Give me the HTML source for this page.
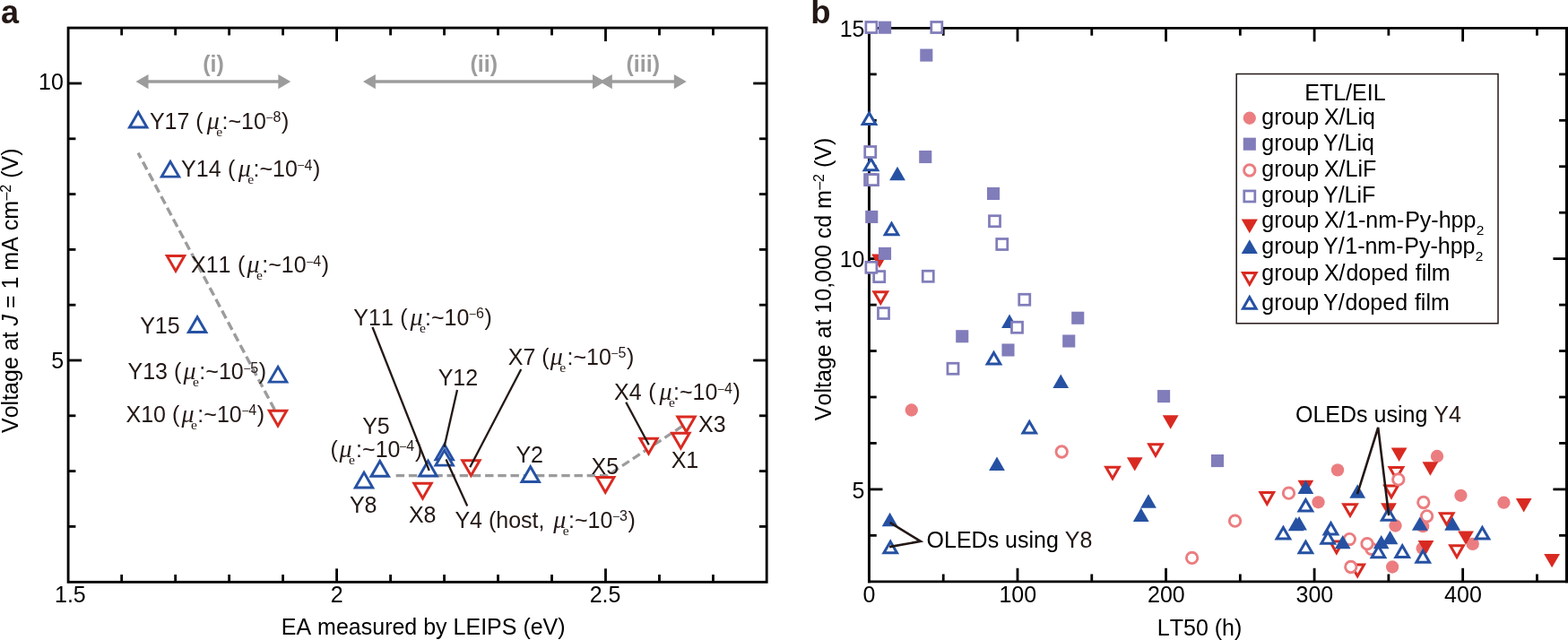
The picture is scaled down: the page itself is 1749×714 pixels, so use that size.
<!DOCTYPE html>
<html lang="en">
<head>
<meta charset="utf-8">
<title>Figure: voltage vs EA and LT50</title>
<style>
html,body{margin:0;padding:0;background:#fff;}
body{width:1749px;height:714px;overflow:hidden;}
svg{display:block;}
text{font-family:"Liberation Sans",sans-serif;font-kerning:none;}
.mu{font-family:"Liberation Serif",serif;font-style:italic;font-size:28px;}
.sb{font-family:"Liberation Serif",serif;font-size:15.6px;}
.sp{font-size:16px;}
.spm{font-size:12.5px;}
.sb2{font-size:15.5px;}
</style>
</head>
<body>
<svg width="1749" height="714" viewBox="0 0 1749 714">
<rect width="1749" height="714" fill="#fff"/>
<g id="panel-a">
<rect x="76.1" y="31.1" width="779.1" height="618.25" fill="none" stroke="#000" stroke-width="2.85"/>
<path d="M135.68 31.1V39.4" stroke="#000" stroke-width="2.8" fill="none"/>
<path d="M135.68 641.05V649.35" stroke="#000" stroke-width="2.8" fill="none"/>
<path d="M195.66 31.1V39.4" stroke="#000" stroke-width="2.8" fill="none"/>
<path d="M195.66 641.05V649.35" stroke="#000" stroke-width="2.8" fill="none"/>
<path d="M255.64 31.1V39.4" stroke="#000" stroke-width="2.8" fill="none"/>
<path d="M255.64 641.05V649.35" stroke="#000" stroke-width="2.8" fill="none"/>
<path d="M315.62 31.1V39.4" stroke="#000" stroke-width="2.8" fill="none"/>
<path d="M315.62 641.05V649.35" stroke="#000" stroke-width="2.8" fill="none"/>
<path d="M375.6 31.1V46.1" stroke="#000" stroke-width="2.8" fill="none"/>
<path d="M375.6 634.35V649.35" stroke="#000" stroke-width="2.8" fill="none"/>
<path d="M435.58 31.1V39.4" stroke="#000" stroke-width="2.8" fill="none"/>
<path d="M435.58 641.05V649.35" stroke="#000" stroke-width="2.8" fill="none"/>
<path d="M495.56 31.1V39.4" stroke="#000" stroke-width="2.8" fill="none"/>
<path d="M495.56 641.05V649.35" stroke="#000" stroke-width="2.8" fill="none"/>
<path d="M555.54 31.1V39.4" stroke="#000" stroke-width="2.8" fill="none"/>
<path d="M555.54 641.05V649.35" stroke="#000" stroke-width="2.8" fill="none"/>
<path d="M615.52 31.1V39.4" stroke="#000" stroke-width="2.8" fill="none"/>
<path d="M615.52 641.05V649.35" stroke="#000" stroke-width="2.8" fill="none"/>
<path d="M675.5 31.1V46.1" stroke="#000" stroke-width="2.8" fill="none"/>
<path d="M675.5 634.35V649.35" stroke="#000" stroke-width="2.8" fill="none"/>
<path d="M735.48 31.1V39.4" stroke="#000" stroke-width="2.8" fill="none"/>
<path d="M735.48 641.05V649.35" stroke="#000" stroke-width="2.8" fill="none"/>
<path d="M795.46 31.1V39.4" stroke="#000" stroke-width="2.8" fill="none"/>
<path d="M795.46 641.05V649.35" stroke="#000" stroke-width="2.8" fill="none"/>
<path d="M76.1 587.4H84.4" stroke="#000" stroke-width="2.8" fill="none"/>
<path d="M846.9 587.4H855.2" stroke="#000" stroke-width="2.8" fill="none"/>
<path d="M76.1 525.6H84.4" stroke="#000" stroke-width="2.8" fill="none"/>
<path d="M846.9 525.6H855.2" stroke="#000" stroke-width="2.8" fill="none"/>
<path d="M76.1 463.8H84.4" stroke="#000" stroke-width="2.8" fill="none"/>
<path d="M846.9 463.8H855.2" stroke="#000" stroke-width="2.8" fill="none"/>
<path d="M76.1 402H91.1" stroke="#000" stroke-width="2.8" fill="none"/>
<path d="M840.2 402H855.2" stroke="#000" stroke-width="2.8" fill="none"/>
<path d="M76.1 340.2H84.4" stroke="#000" stroke-width="2.8" fill="none"/>
<path d="M846.9 340.2H855.2" stroke="#000" stroke-width="2.8" fill="none"/>
<path d="M76.1 278.4H84.4" stroke="#000" stroke-width="2.8" fill="none"/>
<path d="M846.9 278.4H855.2" stroke="#000" stroke-width="2.8" fill="none"/>
<path d="M76.1 216.6H84.4" stroke="#000" stroke-width="2.8" fill="none"/>
<path d="M846.9 216.6H855.2" stroke="#000" stroke-width="2.8" fill="none"/>
<path d="M76.1 154.8H84.4" stroke="#000" stroke-width="2.8" fill="none"/>
<path d="M846.9 154.8H855.2" stroke="#000" stroke-width="2.8" fill="none"/>
<path d="M76.1 93H91.1" stroke="#000" stroke-width="2.8" fill="none"/>
<path d="M840.2 93H855.2" stroke="#000" stroke-width="2.8" fill="none"/>
<text x="70.8" y="100.3" font-size="25" fill="#000" text-anchor="end">10</text>
<text x="71.1" y="411.3" font-size="25" fill="#000" text-anchor="end">5</text>
<text x="78.4" y="672" font-size="25" fill="#000" text-anchor="middle">1.5</text>
<text x="375.6" y="672" font-size="25" fill="#000" text-anchor="middle">2</text>
<text x="675.1" y="672" font-size="25" fill="#000" text-anchor="middle">2.5</text>
<text x="313.8" y="708.3" font-size="25" fill="#000">EA measured by LEIPS (eV)</text>
<text transform="translate(19.6 483) rotate(-90)" font-size="25" fill="#000">Voltage at <tspan font-style="italic">J</tspan> = 1 mA cm<tspan class="sp" dy="-7.6" dx="0.3">–2</tspan><tspan dy="7.6"> (V)</tspan></text>
<text x="0.9" y="26" font-size="36" fill="#231815" font-weight="bold">a</text>
<path d="M164.5 91.05H311.35" stroke="#9c9c9d" stroke-width="3.45" fill="none"/><path d="M151.6 91.05L165.5 82.9V99.2Z" fill="#9c9c9d"/><path d="M324.25 91.05L310.35 82.9V99.2Z" fill="#9c9c9d"/>
<path d="M417.9 91.05H662" stroke="#9c9c9d" stroke-width="3.45" fill="none"/><path d="M405 91.05L418.9 82.9V99.2Z" fill="#9c9c9d"/><path d="M674.9 91.05L661 82.9V99.2Z" fill="#9c9c9d"/>
<path d="M681.8 91.05H752.8" stroke="#9c9c9d" stroke-width="3.45" fill="none"/><path d="M668.9 91.05L682.8 82.9V99.2Z" fill="#9c9c9d"/><path d="M765.7 91.05L751.8 82.9V99.2Z" fill="#9c9c9d"/>
<text x="238" y="80.4" font-size="25" fill="#9c9c9d" text-anchor="middle" font-weight="bold">(i)</text>
<text x="539.75" y="80.4" font-size="25" fill="#9c9c9d" text-anchor="middle" font-weight="bold">(ii)</text>
<text x="717.25" y="80.4" font-size="25" fill="#9c9c9d" text-anchor="middle" font-weight="bold">(iii)</text>
<path d="M154.1 170.6L306.3 457" stroke="#9c9c9d" stroke-width="3.4" stroke-dasharray="9.6 4.86" stroke-dashoffset="3.1" fill="none"/>
<path d="M441.7 530.6H677.5L764 473.5" stroke="#9c9c9d" stroke-width="3.2" stroke-dasharray="9.4 4.8" fill="none"/>
<path d="M144.5 142.03L163.9 142.03L154.2 125.23Z" fill="#fff" stroke="#2651a3" stroke-width="2.95"/>
<path d="M180.3 197.12L199.7 197.12L190 180.33Z" fill="#fff" stroke="#2651a3" stroke-width="2.95"/>
<path d="M210.4 370.52L229.8 370.52L220.1 353.73Z" fill="#fff" stroke="#2651a3" stroke-width="2.95"/>
<path d="M300.4 426.12L319.8 426.12L310.1 409.33Z" fill="#fff" stroke="#2651a3" stroke-width="2.95"/>
<path d="M396.3 543.92L415.7 543.92L406 527.13Z" fill="#fff" stroke="#2651a3" stroke-width="2.95"/>
<path d="M414.05 531.23L433.45 531.23L423.75 514.43Z" fill="#fff" stroke="#2651a3" stroke-width="2.95"/>
<path d="M467.8 531.02L487.2 531.02L477.5 514.23Z" fill="#fff" stroke="#2651a3" stroke-width="2.95"/>
<path d="M486 512.82L505.4 512.82L495.7 496.03Z" fill="#fff" stroke="#2651a3" stroke-width="2.95"/>
<path d="M486 519.12L505.4 519.12L495.7 502.33Z" fill="#fff" stroke="#2651a3" stroke-width="2.95"/>
<path d="M582 537.52L601.4 537.52L591.7 520.73Z" fill="#fff" stroke="#2651a3" stroke-width="2.95"/>
<path d="M186.3 285.58L205.7 285.58L196 302.37Z" fill="#fff" stroke="#d92a21" stroke-width="2.95"/>
<path d="M300.3 458.28L319.7 458.28L310 475.07Z" fill="#fff" stroke="#d92a21" stroke-width="2.95"/>
<path d="M461.8 539.18L481.2 539.18L471.5 555.97Z" fill="#fff" stroke="#d92a21" stroke-width="2.95"/>
<path d="M515.7 513.77L535.1 513.77L525.4 530.57Z" fill="#fff" stroke="#d92a21" stroke-width="2.95"/>
<path d="M665.55 532.48L684.95 532.48L675.25 549.27Z" fill="#fff" stroke="#d92a21" stroke-width="2.95"/>
<path d="M713.8 489.18L733.2 489.18L723.5 505.97Z" fill="#fff" stroke="#d92a21" stroke-width="2.95"/>
<path d="M749.7 483.18L769.1 483.18L759.4 499.97Z" fill="#fff" stroke="#d92a21" stroke-width="2.95"/>
<path d="M755.8 464.98L775.2 464.98L765.5 481.77Z" fill="#fff" stroke="#d92a21" stroke-width="2.95"/>
<path d="M415.5 365L478.75 525" stroke="#231815" stroke-width="2.3" fill="none"/>
<path d="M510 435L495.5 498.75" stroke="#231815" stroke-width="2.3" fill="none"/>
<path d="M581.25 412L524.25 521.25" stroke="#231815" stroke-width="2.3" fill="none"/>
<path d="M497.5 512.5L521.25 564.5" stroke="#231815" stroke-width="2.3" fill="none"/>
<path d="M698.25 448.75L723.75 496.25" stroke="#231815" stroke-width="2.3" fill="none"/>
<text x="166.9" y="143.8" font-size="25" fill="#231815">Y17 (<tspan class="mu" dx="4.0">μ</tspan><tspan class="sb" dy="8" dx="-3.6">e</tspan><tspan dy="-8" dx="-0.6">:~10</tspan><tspan class="spm" dy="-8.7" dx="0.5">–</tspan><tspan class="sp" dy="1.2" dx="0.2">8</tspan><tspan dy="7.5" dx="0.6">)</tspan></text>
<text x="202.1" y="197" font-size="25" fill="#231815">Y14 <tspan dx="0.4">(</tspan><tspan class="mu" dx="3.4">μ</tspan><tspan class="sb" dy="8" dx="-3.6">e</tspan><tspan dy="-8" dx="-0.6">:~10</tspan><tspan class="spm" dy="-8.7" dx="0.5">–</tspan><tspan class="sp" dy="1.2" dx="0.2">4</tspan><tspan dy="7.5" dx="0.6">)</tspan></text>
<text x="213" y="304.4" font-size="25" fill="#231815">X11 <tspan dx="0.65">(</tspan><tspan class="mu" dx="2.1">μ</tspan><tspan class="sb" dy="8" dx="-3.6">e</tspan><tspan dy="-8" dx="-0.6">:~10</tspan><tspan class="spm" dy="-8.7" dx="0.5">–</tspan><tspan class="sp" dy="1.2" dx="0.2">4</tspan><tspan dy="7.5" dx="0.6">)</tspan></text>
<text x="156.2" y="372.1" font-size="25" fill="#231815">Y15</text>
<text x="142.5" y="423.3" font-size="25" fill="#231815">Y13 (<tspan class="mu" dx="2.3">μ</tspan><tspan class="sb" dy="8" dx="-3.6">e</tspan><tspan dy="-8" dx="0.4">:~10</tspan><tspan class="spm" dy="-8.7" dx="0.5">–</tspan><tspan class="sp" dy="1.2" dx="0.2">5</tspan><tspan dy="7.5" dx="0.6">)</tspan></text>
<text x="140.5" y="470.8" font-size="25" fill="#231815">X10 (<tspan class="mu" dx="2.3">μ</tspan><tspan class="sb" dy="8" dx="-3.6">e</tspan><tspan dy="-8" dx="0.4">:~10</tspan><tspan class="spm" dy="-8.7" dx="0.5">–</tspan><tspan class="sp" dy="1.2" dx="0.2">4</tspan><tspan dy="7.5" dx="0.6">)</tspan></text>
<text x="394.3" y="362.5" font-size="25" fill="#231815">Y11 <tspan dx="0.6">(</tspan><tspan class="mu" dx="2.8">μ</tspan><tspan class="sb" dy="8" dx="-3.6">e</tspan><tspan dy="-8" dx="-0.9">:~10</tspan><tspan class="spm" dy="-8.7" dx="0.5">–</tspan><tspan class="sp" dy="1.2" dx="0.2">6</tspan><tspan dy="7.5" dx="0.6">)</tspan></text>
<text x="566.8" y="406.9" font-size="25" fill="#231815">X7 (<tspan class="mu" dx="1.2">μ</tspan><tspan class="sb" dy="8" dx="-3.6">e</tspan><tspan dy="-8" dx="1.2">:~10</tspan><tspan class="spm" dy="-8.7" dx="0.5">–</tspan><tspan class="sp" dy="1.2" dx="0.2">5</tspan><tspan dy="7.5" dx="0.6">)</tspan></text>
<text x="488.7" y="429.5" font-size="25" fill="#231815">Y12</text>
<text x="685" y="446.3" font-size="25" fill="#231815">X4 <tspan dx="0.6">(</tspan><tspan class="mu" dx="4.0">μ</tspan><tspan class="sb" dy="8" dx="-3.6">e</tspan><tspan dy="-8" dx="-1.9">:~10</tspan><tspan class="spm" dy="-8.7" dx="0.5">–</tspan><tspan class="sp" dy="1.2" dx="0.2">4</tspan><tspan dy="7.5" dx="0.6">)</tspan></text>
<text x="404.2" y="483.9" font-size="25" fill="#231815">Y5</text>
<text x="368.4" y="510.3" font-size="25" fill="#231815">(<tspan class="mu" dx="1.8">μ</tspan><tspan class="sb" dy="8" dx="-3.6">e</tspan><tspan dy="-8" dx="1.2">:~10</tspan><tspan class="spm" dy="-8.7" dx="-0.4">–</tspan><tspan class="sp" dy="1.2" dx="0.2">4</tspan><tspan dy="7.5" dx="0.9">)</tspan></text>
<text x="575.4" y="515.8" font-size="25" fill="#231815">Y2</text>
<text x="659.6" y="529.1" font-size="25" fill="#231815">X5</text>
<text x="779" y="481.5" font-size="25" fill="#231815">X3</text>
<text x="748.7" y="522.2" font-size="25" fill="#231815">X1</text>
<text x="389.9" y="572.3" font-size="25" fill="#231815">Y8</text>
<text x="455.9" y="582.6" font-size="25" fill="#231815">X8</text>
<text x="507.4" y="588.8" font-size="25" fill="#231815">Y4 (host, <tspan class="mu" dx="2.9">μ</tspan><tspan class="sb" dy="8" dx="-3.6">e</tspan><tspan dy="-8" dx="-0.6">:~10</tspan><tspan class="spm" dy="-8.7" dx="0.5">–</tspan><tspan class="sp" dy="1.2" dx="0.2">3</tspan><tspan dy="7.5" dx="0.6">)</tspan></text>
</g>
<g id="panel-b">
<path d="M968 31.4H1749" stroke="#000" stroke-width="2.7" fill="none"/>
<path d="M968 648.8H1749" stroke="#000" stroke-width="2.85" fill="none"/>
<path d="M969.45 30.05V650.22" stroke="#000" stroke-width="2.95" fill="none"/>
<path d="M1747.5 30.05V650.22" stroke="#000" stroke-width="3.1" fill="none"/>
<path d="M1052.23 31.4V39.7" stroke="#000" stroke-width="2.8" fill="none"/>
<path d="M1052.23 640.5V648.8" stroke="#000" stroke-width="2.8" fill="none"/>
<path d="M1135 31.4V46.4" stroke="#000" stroke-width="2.8" fill="none"/>
<path d="M1135 633.8V648.8" stroke="#000" stroke-width="2.8" fill="none"/>
<path d="M1217.78 31.4V39.7" stroke="#000" stroke-width="2.8" fill="none"/>
<path d="M1217.78 640.5V648.8" stroke="#000" stroke-width="2.8" fill="none"/>
<path d="M1300.55 31.4V46.4" stroke="#000" stroke-width="2.8" fill="none"/>
<path d="M1300.55 633.8V648.8" stroke="#000" stroke-width="2.8" fill="none"/>
<path d="M1383.33 31.4V39.7" stroke="#000" stroke-width="2.8" fill="none"/>
<path d="M1383.33 640.5V648.8" stroke="#000" stroke-width="2.8" fill="none"/>
<path d="M1466.1 31.4V46.4" stroke="#000" stroke-width="2.8" fill="none"/>
<path d="M1466.1 633.8V648.8" stroke="#000" stroke-width="2.8" fill="none"/>
<path d="M1548.88 31.4V39.7" stroke="#000" stroke-width="2.8" fill="none"/>
<path d="M1548.88 640.5V648.8" stroke="#000" stroke-width="2.8" fill="none"/>
<path d="M1631.65 31.4V46.4" stroke="#000" stroke-width="2.8" fill="none"/>
<path d="M1631.65 633.8V648.8" stroke="#000" stroke-width="2.8" fill="none"/>
<path d="M1714.43 31.4V39.7" stroke="#000" stroke-width="2.8" fill="none"/>
<path d="M1714.43 640.5V648.8" stroke="#000" stroke-width="2.8" fill="none"/>
<path d="M969.45 597.35H977.75" stroke="#000" stroke-width="2.8" fill="none"/>
<path d="M1739.1 597.35H1747.4" stroke="#000" stroke-width="2.8" fill="none"/>
<path d="M969.45 545.9H984.45" stroke="#000" stroke-width="2.8" fill="none"/>
<path d="M1732.4 545.9H1747.4" stroke="#000" stroke-width="2.8" fill="none"/>
<path d="M969.45 494.45H977.75" stroke="#000" stroke-width="2.8" fill="none"/>
<path d="M1739.1 494.45H1747.4" stroke="#000" stroke-width="2.8" fill="none"/>
<path d="M969.45 443H977.75" stroke="#000" stroke-width="2.8" fill="none"/>
<path d="M1739.1 443H1747.4" stroke="#000" stroke-width="2.8" fill="none"/>
<path d="M969.45 391.55H977.75" stroke="#000" stroke-width="2.8" fill="none"/>
<path d="M1739.1 391.55H1747.4" stroke="#000" stroke-width="2.8" fill="none"/>
<path d="M969.45 340.1H977.75" stroke="#000" stroke-width="2.8" fill="none"/>
<path d="M1739.1 340.1H1747.4" stroke="#000" stroke-width="2.8" fill="none"/>
<path d="M969.45 288.65H984.45" stroke="#000" stroke-width="2.8" fill="none"/>
<path d="M1732.4 288.65H1747.4" stroke="#000" stroke-width="2.8" fill="none"/>
<path d="M969.45 237.2H977.75" stroke="#000" stroke-width="2.8" fill="none"/>
<path d="M1739.1 237.2H1747.4" stroke="#000" stroke-width="2.8" fill="none"/>
<path d="M969.45 185.75H977.75" stroke="#000" stroke-width="2.8" fill="none"/>
<path d="M1739.1 185.75H1747.4" stroke="#000" stroke-width="2.8" fill="none"/>
<path d="M969.45 134.3H977.75" stroke="#000" stroke-width="2.8" fill="none"/>
<path d="M1739.1 134.3H1747.4" stroke="#000" stroke-width="2.8" fill="none"/>
<path d="M969.45 82.85H977.75" stroke="#000" stroke-width="2.8" fill="none"/>
<path d="M1739.1 82.85H1747.4" stroke="#000" stroke-width="2.8" fill="none"/>
<text x="964.5" y="41" font-size="25" fill="#000" text-anchor="end">15</text>
<text x="964.5" y="298.25" font-size="25" fill="#000" text-anchor="end">10</text>
<text x="964.5" y="555.5" font-size="25" fill="#000" text-anchor="end">5</text>
<text x="969.45" y="671.7" font-size="25" fill="#000" text-anchor="middle">0</text>
<text x="1135.3" y="671.7" font-size="25" fill="#000" text-anchor="middle">100</text>
<text x="1300.85" y="671.7" font-size="25" fill="#000" text-anchor="middle">200</text>
<text x="1466.4" y="671.7" font-size="25" fill="#000" text-anchor="middle">300</text>
<text x="1631.95" y="671.7" font-size="25" fill="#000" text-anchor="middle">400</text>
<text x="1290.8" y="709" font-size="25" fill="#000">LT50 (h)</text>
<text transform="translate(926.9 469.2) rotate(-90)" font-size="25" fill="#000">Voltage at 10,000 cd m<tspan class="sp" dy="-7.6" dx="0.3">–2</tspan><tspan dy="7.6"> (V)</tspan></text>
<text x="904.2" y="25.8" font-size="36.5" fill="#231815" font-weight="bold">b</text>
<circle cx="1016.75" cy="457.5" r="7.15" fill="#eb7d80"/>
<circle cx="1492" cy="524.4" r="7.15" fill="#eb7d80"/>
<circle cx="1603" cy="509" r="7.15" fill="#eb7d80"/>
<circle cx="1470.5" cy="560.3" r="7.15" fill="#eb7d80"/>
<circle cx="1629.4" cy="552.8" r="7.15" fill="#eb7d80"/>
<circle cx="1677.4" cy="560.7" r="7.15" fill="#eb7d80"/>
<circle cx="1556.5" cy="586.5" r="7.15" fill="#eb7d80"/>
<circle cx="1587.2" cy="587.1" r="7.15" fill="#eb7d80"/>
<circle cx="1642.7" cy="606.9" r="7.15" fill="#eb7d80"/>
<circle cx="1586.6" cy="611.7" r="7.15" fill="#eb7d80"/>
<circle cx="1553.1" cy="632.5" r="7.15" fill="#eb7d80"/>
<path d="M972.1 283.5L989.9 283.5L981 298.92Z" fill="#d92a21"/>
<path d="M1296.8 463.3L1314.6 463.3L1305.7 478.72Z" fill="#d92a21"/>
<path d="M1256.85 510.2L1274.65 510.2L1265.75 525.62Z" fill="#d92a21"/>
<path d="M1447.5 535.7L1465.3 535.7L1456.4 551.12Z" fill="#d92a21"/>
<path d="M1551.7 499.5L1569.5 499.5L1560.6 514.92Z" fill="#d92a21"/>
<path d="M1586.5 515.3L1604.3 515.3L1595.4 530.72Z" fill="#d92a21"/>
<path d="M1540.1 561.3L1557.9 561.3L1549 576.72Z" fill="#d92a21"/>
<path d="M1690.8 556L1708.6 556L1699.7 571.42Z" fill="#d92a21"/>
<path d="M1626.1 592.4L1643.9 592.4L1635 607.82Z" fill="#d92a21"/>
<path d="M1581.6 602.9L1599.4 602.9L1590.5 618.32Z" fill="#d92a21"/>
<path d="M1722.2 617.9L1740 617.9L1731.1 633.32Z" fill="#d92a21"/>
<path d="M974.95 325.7L989.55 325.7L982.25 338.35Z" fill="#fff" stroke="#d92a21" stroke-width="3.0"/>
<path d="M1281.7 495.7L1296.3 495.7L1289 508.35Z" fill="#fff" stroke="#d92a21" stroke-width="3.0"/>
<path d="M1233.7 521.2L1248.3 521.2L1241 533.85Z" fill="#fff" stroke="#d92a21" stroke-width="3.0"/>
<path d="M1406 549.6L1420.6 549.6L1413.3 562.25Z" fill="#fff" stroke="#d92a21" stroke-width="3.0"/>
<path d="M1550.1 521.6L1564.7 521.6L1557.4 534.25Z" fill="#fff" stroke="#d92a21" stroke-width="3.0"/>
<path d="M1544.7 542L1559.3 542L1552 554.65Z" fill="#fff" stroke="#d92a21" stroke-width="3.0"/>
<path d="M1498.7 562.7L1513.3 562.7L1506 575.35Z" fill="#fff" stroke="#d92a21" stroke-width="3.0"/>
<path d="M1606.4 572.8L1621 572.8L1613.7 585.45Z" fill="#fff" stroke="#d92a21" stroke-width="3.0"/>
<path d="M1617.7 608.8L1632.3 608.8L1625 621.45Z" fill="#fff" stroke="#d92a21" stroke-width="3.0"/>
<path d="M1483.5 604L1498.1 604L1490.8 616.65Z" fill="#fff" stroke="#d92a21" stroke-width="3.0"/>
<path d="M1506.9 630L1521.5 630L1514.2 642.65Z" fill="#fff" stroke="#d92a21" stroke-width="3.0"/>
<circle cx="1184.25" cy="504" r="6.2" fill="#fff" stroke="#eb7d80" stroke-width="2.9"/>
<circle cx="1437.5" cy="550.2" r="6.2" fill="#fff" stroke="#eb7d80" stroke-width="2.9"/>
<circle cx="1559.8" cy="534.9" r="6.2" fill="#fff" stroke="#eb7d80" stroke-width="2.9"/>
<circle cx="1587.8" cy="560.5" r="6.2" fill="#fff" stroke="#eb7d80" stroke-width="2.9"/>
<circle cx="1591.6" cy="575.8" r="6.2" fill="#fff" stroke="#eb7d80" stroke-width="2.9"/>
<circle cx="1377.55" cy="581.2" r="6.2" fill="#fff" stroke="#eb7d80" stroke-width="2.9"/>
<circle cx="1329.6" cy="622.4" r="6.2" fill="#fff" stroke="#eb7d80" stroke-width="2.9"/>
<circle cx="1505.3" cy="601.6" r="6.2" fill="#fff" stroke="#eb7d80" stroke-width="2.9"/>
<circle cx="1529.8" cy="612.3" r="6.2" fill="#fff" stroke="#eb7d80" stroke-width="2.9"/>
<circle cx="1525" cy="606.7" r="6.2" fill="#fff" stroke="#eb7d80" stroke-width="2.9"/>
<circle cx="1506.8" cy="632.5" r="6.2" fill="#fff" stroke="#eb7d80" stroke-width="2.9"/>
<path d="M992.1 201.25L1009.9 201.25L1001 185.83Z" fill="#2651a3"/>
<path d="M1117.1 366L1134.9 366L1126 350.58Z" fill="#2651a3"/>
<path d="M1174.35 433L1192.15 433L1183.25 417.58Z" fill="#2651a3"/>
<path d="M1103.1 525L1120.9 525L1112 509.58Z" fill="#2651a3"/>
<path d="M1272.1 566.75L1289.9 566.75L1281 551.33Z" fill="#2651a3"/>
<path d="M1263.85 582L1281.65 582L1272.75 566.58Z" fill="#2651a3"/>
<path d="M983.7 587.2L1001.5 587.2L992.6 571.78Z" fill="#2651a3"/>
<path d="M1447.5 550.9L1465.3 550.9L1456.4 535.48Z" fill="#2651a3"/>
<path d="M1505.3 555.7L1523.1 555.7L1514.2 540.28Z" fill="#2651a3"/>
<path d="M1436.75 592.2L1454.55 592.2L1445.65 576.78Z" fill="#2651a3"/>
<path d="M1440.15 591.5L1457.95 591.5L1449.05 576.08Z" fill="#2651a3"/>
<path d="M1488.8 612.3L1506.6 612.3L1497.7 596.88Z" fill="#2651a3"/>
<path d="M1541.6 607.3L1559.4 607.3L1550.5 591.88Z" fill="#2651a3"/>
<path d="M1531.8 612.3L1549.6 612.3L1540.7 596.88Z" fill="#2651a3"/>
<path d="M1574.9 591.8L1592.7 591.8L1583.8 576.38Z" fill="#2651a3"/>
<path d="M1611.2 591.8L1629 591.8L1620.1 576.38Z" fill="#2651a3"/>
<path d="M962.2 138.55L976.8 138.55L969.5 125.9Z" fill="#fff" stroke="#2651a3" stroke-width="3.0"/>
<path d="M964.2 189.8L978.8 189.8L971.5 177.15Z" fill="#fff" stroke="#2651a3" stroke-width="3.0"/>
<path d="M987.2 261.8L1001.8 261.8L994.5 249.15Z" fill="#fff" stroke="#2651a3" stroke-width="3.0"/>
<path d="M1101.2 406.05L1115.8 406.05L1108.5 393.4Z" fill="#fff" stroke="#2651a3" stroke-width="3.0"/>
<path d="M1140.95 483.05L1155.55 483.05L1148.25 470.4Z" fill="#fff" stroke="#2651a3" stroke-width="3.0"/>
<path d="M985.9 616.8L1000.5 616.8L993.2 604.15Z" fill="#fff" stroke="#2651a3" stroke-width="3.0"/>
<path d="M1449.1 570.1L1463.7 570.1L1456.4 557.45Z" fill="#fff" stroke="#2651a3" stroke-width="3.0"/>
<path d="M1424.1 601.1L1438.7 601.1L1431.4 588.45Z" fill="#fff" stroke="#2651a3" stroke-width="3.0"/>
<path d="M1449.1 616.8L1463.7 616.8L1456.4 604.15Z" fill="#fff" stroke="#2651a3" stroke-width="3.0"/>
<path d="M1477.2 596.1L1491.8 596.1L1484.5 583.45Z" fill="#fff" stroke="#2651a3" stroke-width="3.0"/>
<path d="M1473.9 606.2L1488.5 606.2L1481.2 593.55Z" fill="#fff" stroke="#2651a3" stroke-width="3.0"/>
<path d="M1541.4 580.2L1556 580.2L1548.7 567.55Z" fill="#fff" stroke="#2651a3" stroke-width="3.0"/>
<path d="M1530.2 621.8L1544.8 621.8L1537.5 609.15Z" fill="#fff" stroke="#2651a3" stroke-width="3.0"/>
<path d="M1556.9 621.5L1571.5 621.5L1564.2 608.85Z" fill="#fff" stroke="#2651a3" stroke-width="3.0"/>
<path d="M1579.9 627.2L1594.5 627.2L1587.2 614.55Z" fill="#fff" stroke="#2651a3" stroke-width="3.0"/>
<path d="M1646.1 601.1L1660.7 601.1L1653.4 588.45Z" fill="#fff" stroke="#2651a3" stroke-width="3.0"/>
<rect x="980.05" y="23.65" width="14.1" height="14.1" fill="#817dba"/>
<rect x="1026.25" y="54.55" width="14.1" height="14.1" fill="#817dba"/>
<rect x="1025.2" y="167.95" width="14.1" height="14.1" fill="#817dba"/>
<rect x="1100.95" y="208.95" width="14.1" height="14.1" fill="#817dba"/>
<rect x="965.2" y="234.85" width="14.1" height="14.1" fill="#817dba"/>
<rect x="979.95" y="275.85" width="14.1" height="14.1" fill="#817dba"/>
<rect x="1195.2" y="347.7" width="14.1" height="14.1" fill="#817dba"/>
<rect x="1066.2" y="368.2" width="14.1" height="14.1" fill="#817dba"/>
<rect x="1185.2" y="373.45" width="14.1" height="14.1" fill="#817dba"/>
<rect x="1117.45" y="383.45" width="14.1" height="14.1" fill="#817dba"/>
<rect x="1291.05" y="435.05" width="14.1" height="14.1" fill="#817dba"/>
<rect x="1350.9" y="507" width="14.1" height="14.1" fill="#817dba"/>
<rect x="965.88" y="24.48" width="12.05" height="12.05" fill="#fff" stroke="#817dba" stroke-width="2.75"/>
<rect x="1038.77" y="24.48" width="12.05" height="12.05" fill="#fff" stroke="#817dba" stroke-width="2.75"/>
<rect x="964.73" y="163.47" width="12.05" height="12.05" fill="#fff" stroke="#817dba" stroke-width="2.75"/>
<rect x="964.58" y="194.57" width="12.05" height="12.05" fill="#fff" stroke="#817dba" stroke-width="2.75"/>
<rect x="967.48" y="194.57" width="12.05" height="12.05" fill="#fff" stroke="#817dba" stroke-width="2.75"/>
<rect x="1103.47" y="240.72" width="12.05" height="12.05" fill="#fff" stroke="#817dba" stroke-width="2.75"/>
<rect x="1111.72" y="266.48" width="12.05" height="12.05" fill="#fff" stroke="#817dba" stroke-width="2.75"/>
<rect x="974.73" y="302.58" width="12.05" height="12.05" fill="#fff" stroke="#817dba" stroke-width="2.75"/>
<rect x="965.88" y="292.28" width="12.05" height="12.05" fill="#fff" stroke="#817dba" stroke-width="2.75"/>
<rect x="1029.22" y="302.23" width="12.05" height="12.05" fill="#fff" stroke="#817dba" stroke-width="2.75"/>
<rect x="1136.72" y="328.23" width="12.05" height="12.05" fill="#fff" stroke="#817dba" stroke-width="2.75"/>
<rect x="979.48" y="343.48" width="12.05" height="12.05" fill="#fff" stroke="#817dba" stroke-width="2.75"/>
<rect x="1128.47" y="359.23" width="12.05" height="12.05" fill="#fff" stroke="#817dba" stroke-width="2.75"/>
<rect x="1056.97" y="405.23" width="12.05" height="12.05" fill="#fff" stroke="#817dba" stroke-width="2.75"/>
<path d="M992.6 582.9L1026.8 603.9L992.1 610.1" stroke="#231815" stroke-width="2.6" fill="none"/>
<path d="M1514 551.2L1537.2 477L1549.1 575.1" stroke="#231815" stroke-width="2.6" fill="none"/>
<text x="1033.6" y="611.3" font-size="25" fill="#000">OLEDs using <tspan fill="#231815">Y8</tspan></text>
<text x="1445" y="470.5" font-size="25" fill="#000">OLEDs using <tspan fill="#231815">Y4</tspan></text>
<rect x="1379.2" y="82.5" width="291.8" height="278.3" fill="#fff" stroke="#231815" stroke-width="1.5"/>
<text x="1500.4" y="111.8" font-size="25" fill="#000" text-anchor="middle">ETL/EIL</text>
<text x="1407.3" y="138.9" font-size="25" fill="#000">group <tspan dx="-1.3">X</tspan>/Liq</text>
<text x="1407.3" y="167.8" font-size="25" fill="#000">group <tspan dx="-2.2">Y</tspan>/Liq</text>
<text x="1407.3" y="196.7" font-size="25" fill="#000">group <tspan dx="-1.3">X</tspan>/LiF</text>
<text x="1407.3" y="225.5" font-size="25" fill="#000">group <tspan dx="-2.2">Y</tspan>/LiF</text>
<text x="1407.3" y="254" font-size="25" fill="#000">group <tspan dx="-1.3">X</tspan>/<tspan dx="0.6">1</tspan>-nm-<tspan dx="0.7">P</tspan>y-hpp<tspan class="sb2" dy="8.4" dx="0.3">2</tspan></text>
<text x="1407.3" y="282.9" font-size="25" fill="#000">group <tspan dx="-2.2">Y</tspan>/<tspan dx="0.6">1</tspan>-nm-<tspan dx="0.7">P</tspan>y-hpp<tspan class="sb2" dy="8.4" dx="0.3">2</tspan></text>
<text x="1407.3" y="313.3" font-size="25" fill="#000">group <tspan dx="-1.3">X</tspan>/<tspan dx="0.9">d</tspan>oped <tspan dx="0.9">f</tspan>ilm</text>
<text x="1407.3" y="346.4" font-size="25" fill="#000">group <tspan dx="-2.2">Y</tspan>/<tspan dx="0.9">d</tspan>oped <tspan dx="0.9">f</tspan>ilm</text>
<circle cx="1393.8" cy="131.75" r="7.15" fill="#eb7d80"/>
<rect x="1386.75" y="153.65" width="14.1" height="14.1" fill="#817dba"/>
<circle cx="1393.8" cy="190" r="6.2" fill="#fff" stroke="#eb7d80" stroke-width="2.9"/>
<rect x="1387.77" y="212.97" width="12.05" height="12.05" fill="#fff" stroke="#817dba" stroke-width="2.75"/>
<path d="M1384.7 244.5L1402.9 244.5L1393.8 260.26Z" fill="#d92a21"/>
<path d="M1384.7 283L1402.9 283L1393.8 267.24Z" fill="#2651a3"/>
<path d="M1386.5 304.5L1401.1 304.5L1393.8 317.15Z" fill="#fff" stroke="#d92a21" stroke-width="3.0"/>
<path d="M1386.5 344.25L1401.1 344.25L1393.8 331.6Z" fill="#fff" stroke="#2651a3" stroke-width="3.0"/>
</g>
</svg>
</body>
</html>
